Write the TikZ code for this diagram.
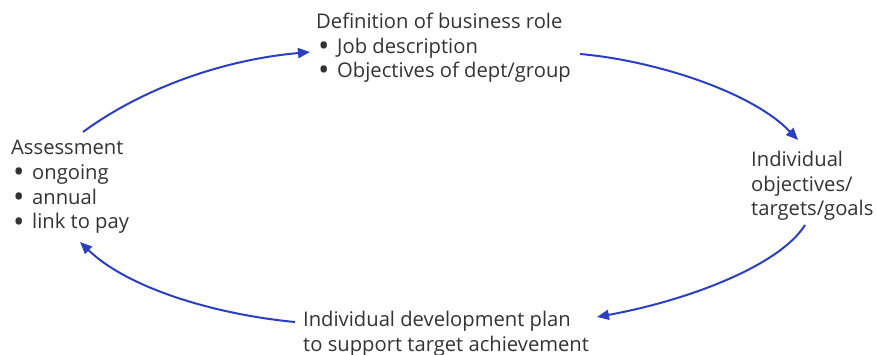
\documentclass[tikz,border=0pt]{standalone}
\usepackage{fontspec}
\setmainfont{Open Sans}
\usetikzlibrary{arrows.meta}
\definecolor{txt}{HTML}{333333}
\definecolor{cyc}{HTML}{2B3FBF}
\newcommand{\itm}{\makebox[21pt][l]{\hspace{2pt}\smash{\raisebox{-3pt}{\scalebox{1.5}{\textbullet}}}}}
\begin{document}
\begin{tikzpicture}[x=1pt,y=-1pt,
  lbl/.style={anchor=base west,inner sep=0pt,align=left,text=txt,
    font=\fontsize{20.2}{24.7}\selectfont},
  cycle/.style={draw=cyc,line width=2pt,
    -{Triangle[length=12pt,width=10pt]}}]
  \useasboundingbox (0,0) rectangle (877,355);
  % the four stages of the cycle (anchored at the baseline of the last line)
  \node[lbl] (role) at (316,78) {Definition of business role\\
    \itm Job description\\ \itm Objectives of dept/group};
  \node[lbl] (goals) at (751,216) {Individual\\ objectives/\\ targets/goals};
  \node[lbl] (plan) at (303,351) {Individual development plan\\
    to support target achievement};
  \node[lbl] (assess) at (11,229) {Assessment\\ \itm ongoing\\ \itm annual\\
    \itm link to pay};
  % arrow ends beside each stage
  \coordinate (a1) at (83,132);  \coordinate (b1) at (310,52);
  \coordinate (a2) at (580,54);  \coordinate (b2) at (798,140);
  \coordinate (a3) at (805,225); \coordinate (b3) at (597,317);
  \coordinate (a4) at (295,322); \coordinate (b4) at (80,242);
  % connectors
  \draw[cycle] (a1) .. controls (140,90) and (220,60) .. (b1);
  \draw[cycle] (a2) .. controls (650,60) and (750,90) .. (b2);
  \draw[cycle] (a3) .. controls (780,265) and (690,300) .. (b3);
  \draw[cycle] (a4) .. controls (220,315) and (130,290) .. (b4);
\end{tikzpicture}
\end{document}
